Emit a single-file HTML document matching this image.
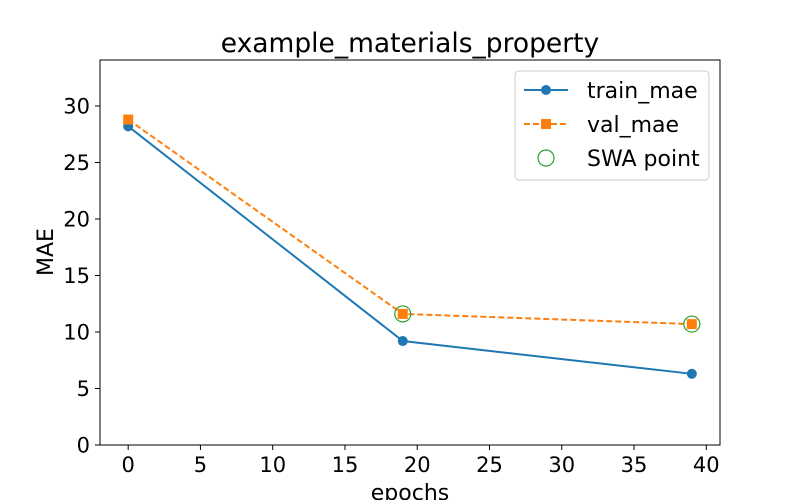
<!DOCTYPE html>
<html><head><meta charset="utf-8"><style>
html,body{margin:0;padding:0;background:#fff;}
svg{display:block;font-family:"DejaVu Sans","Liberation Sans",sans-serif;}
</style></head><body>
<svg id="chart" width="800" height="500" viewBox="0 0 800 500">
<rect x="0" y="0" width="800" height="500" fill="#fff"/>
<text x="410" y="52" font-size="26.5" text-anchor="middle" fill="#000">example_materials_property</text>
<g id="grid"></g>
<g id="series"></g>
<rect x="100" y="60" width="620" height="385" fill="none" stroke="#000" stroke-width="1"/>
<text x="410" y="500" font-size="22" text-anchor="middle">epochs</text>
<text transform="translate(53,252) rotate(-90)" font-size="22" text-anchor="middle">MAE</text>
<g>
<rect x="515" y="71" width="194" height="109" rx="4" fill="#fff" fill-opacity="0.8" stroke="#ccc"/>
<g>
<line x1="524" y1="90" x2="568" y2="90" stroke="#1f77b4" stroke-width="2"/>
<circle cx="546" cy="90" r="5" fill="#1f77b4"/>
<text x="587" y="98" font-size="22">train_mae</text></g>
<g>
<line x1="524" y1="124" x2="568" y2="124" stroke="#ff7f0e" stroke-width="2" stroke-dasharray="6,3"/>
<rect x="541" y="119" width="10" height="10" fill="#ff7f0e"/>
<text x="587" y="132" font-size="22">val_mae</text></g>
<g>
<circle cx="546" cy="158" r="8" fill="none" stroke="#2ca02c" stroke-width="1.2"/>
<text x="587" y="166" font-size="22">SWA point</text></g>
</g>
</svg>
<script>
const epochs=[0,19,39];
const trainMae=[28.2,9.2,6.3];
const valMae=[28.8,11.6,10.7];
const swaEpochs=[19,39];
const swaValues=[11.6,10.7];
const xTicks=[0,5,10,15,20,25,30,35,40];
const yTicks=[0,5,10,15,20,25,30];
const NS="http://www.w3.org/2000/svg";
const X0=100,X1=720,Y0=445,Y1=60,xmin=-1.95,xmax=40.95,ymin=0,ymax=34.07;
function sx(v){return X0+(v-xmin)/(xmax-xmin)*(X1-X0);}
function sy(v){return Y0-(v-ymin)/(ymax-ymin)*(Y0-Y1);}
function mk(tag,attrs,parent){const e=document.createElementNS(NS,tag);for(const k in attrs)e.setAttribute(k,attrs[k]);parent.appendChild(e);return e;}
const g=document.getElementById('grid'),s=document.getElementById('series');
xTicks.forEach(t=>{const x=sx(t);
const l=mk('line',{x1:x,x2:x,y1:Y0,y2:Y0+5,stroke:'#000'},g);


const tx=mk('text',{x:x,y:Y0+27,'font-size':21,'text-anchor':'middle'},g);tx.textContent=t;

});
yTicks.forEach(t=>{const y=sy(t);
const l=mk('line',{x1:X0-5,x2:X0,y1:y,y2:y,stroke:'#000'},g);


const tx=mk('text',{x:X0-10,y:y+7.5,'font-size':21,'text-anchor':'end'},g);tx.textContent=t;

});
const tp=mk('polyline',{points:epochs.map((e,i)=>sx(e)+','+sy(trainMae[i])).join(' '),fill:'none',stroke:'#1f77b4','stroke-width':2},s);


const vp=mk('polyline',{points:epochs.map((e,i)=>sx(e)+','+sy(valMae[i])).join(' '),fill:'none',stroke:'#ff7f0e','stroke-width':2,'stroke-dasharray':'6,3'},s);


epochs.forEach((e,i)=>{
const c=mk('circle',{cx:sx(e),cy:sy(trainMae[i]),r:5,fill:'#1f77b4'},s);


const r=mk('rect',{x:sx(e)-5,y:sy(valMae[i])-5,width:10,height:10,fill:'#ff7f0e'},s);

});
swaEpochs.forEach((e,i)=>{
const c=mk('circle',{cx:sx(e),cy:sy(swaValues[i]),r:8,fill:'none',stroke:'#2ca02c','stroke-width':1.2},s);

});
</script>
</body></html>
